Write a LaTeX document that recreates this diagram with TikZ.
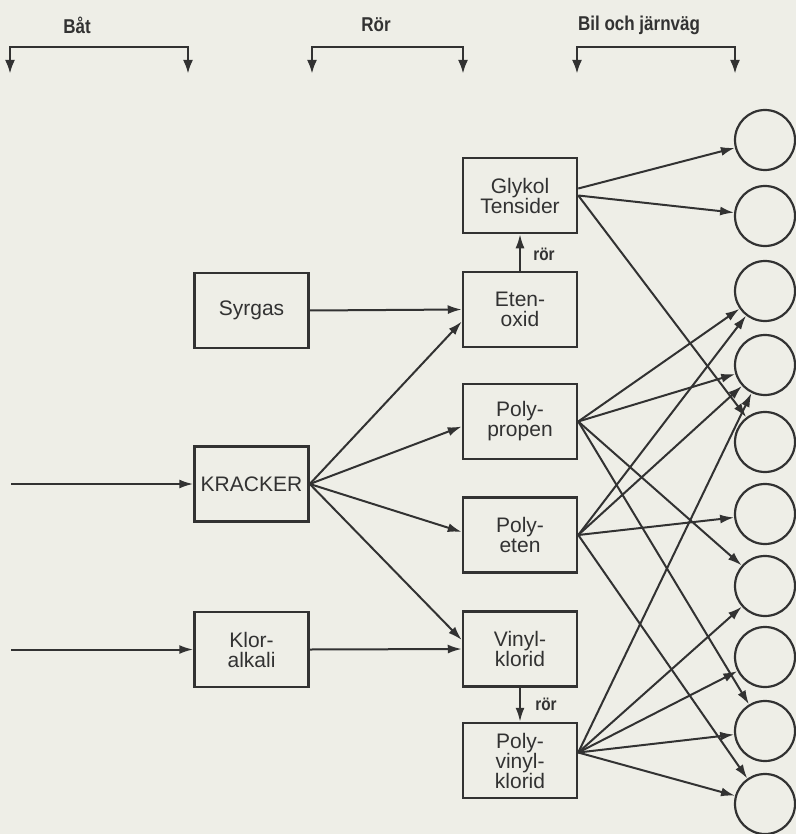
\documentclass[tikz,border=0pt]{standalone}
\usepackage{fontspec}
\usepackage{graphicx}
\setmainfont{Liberation Sans}
\usetikzlibrary{arrows.meta,calc}
\definecolor{ink}{RGB}{50,50,50}
\definecolor{paper}{RGB}{238,238,231}
\newcommand\mycond[1]{\scalebox{0.85}[1]{#1}}
\tikzset{
  box/.style={draw=ink, line width=1.25pt, minimum width=57pt, minimum height=37.5pt,
    inner sep=0pt, align=center, text=ink, font=\fontsize{10.5}{10}\selectfont},
  ring/.style={draw=ink, line width=1.1pt, circle, inner sep=0pt, minimum size=30pt},
  flow/.style={draw=ink, line width=1pt, -{Latex[length=7pt,width=4.5pt]}},
  bracket/.style={draw=ink, line width=1.4pt, {Latex[length=7pt,width=5pt]}-{Latex[length=7pt,width=5pt]}},
  head/.style={text=ink, inner sep=0pt, font=\bfseries\fontsize{10}{12}\selectfont},
  tag/.style={text=ink, inner sep=0pt, font=\bfseries\fontsize{9}{11}\selectfont}
}
\begin{document}
\begin{tikzpicture}[x=0.5pt, y=-0.5pt]
\fill[paper] (0,0) rectangle (796,834);
\useasboundingbox (0,0) rectangle (796,834);

% top labels and brackets
\node[head] (lblBat) at (77,25) {\mycond{Båt}};
\node[head] (lblRor) at (376,25) {\mycond{Rör}};
\node[head] (lblBil) at (639,25) {\mycond{Bil och järnväg}};
\coordinate (bA1) at (10,74);  \coordinate (bA2) at (188,74);
\coordinate (bB1) at (312,74); \coordinate (bB2) at (463,74);
\coordinate (bC1) at (577,74); \coordinate (bC2) at (735,74);
\draw[bracket] (bA1) -- ++(0,-27) -| (bA2);
\draw[bracket] (bB1) -- ++(0,-27) -| (bB2);
\draw[bracket] (bC1) -- ++(0,-27) -| (bC2);

% boxes
\node[box] (Syrgas) at (251.5,310.5) {Syrgas};
\node[box] (Kracker) at (251.5,484) {KRACKER};
\node[box] (Klor) at (251.5,649.5) {Klor-\\alkali};
\node[box] (Glykol) at (520,195.5) {Glykol\\Tensider};
\node[box] (Eten) at (520,309.5) {Eten-\\oxid};
\node[box] (PP) at (520,421.5) {Poly-\\propen};
\node[box] (PE) at (520,535) {Poly-\\eten};
\node[box] (VC) at (520,649) {Vinyl-\\klorid};
\node[box] (PVC) at (520,760.5) {Poly-\\vinyl-\\klorid};

% circles
\foreach \i/\y in {1/140,2/216,3/291,4/365,5/442,6/514,7/586,8/657,9/731,10/804}
  \node[ring] (c\i) at (765,\y) {};

% inputs
\coordinate (inK) at (11,484);
\coordinate (inC) at (11,649.5);
\draw[flow] (inK) -- (Kracker.west);
\draw[flow] (inC) -- (Klor.west);

% left side flows
\draw[flow] (Syrgas.east) -- (Eten.west);
\draw[flow] (Kracker.east) -- ($(Eten.west)+(0,12)$);
\draw[flow] (Kracker.east) -- ($(PP.west)+(0,5)$);
\draw[flow] (Kracker.east) -- ($(PE.west)+(0,-3)$);
\draw[flow] (Kracker.east) -- ($(VC.west)+(0,-9)$);
\draw[flow] (Klor.east) -- (VC.west);

% pipes
\draw[flow] (Eten.north) -- (Glykol.south);
\node[tag] (rorA) at (544,254) {\mycond{rör}};
\draw[flow] (VC.south) -- (PVC.north);
\node[tag] (rorB) at (546,704) {\mycond{rör}};

% product flows
\coordinate (gA) at ($(Glykol.east)+(0,-7)$);
\coordinate (pvcR) at ($(PVC.east)+(0,-8)$);
\draw[flow] (gA) -- (c1);
\draw[flow] (Glykol.east) -- (c2);
\draw[flow] (Glykol.east) -- (c5);
\foreach \c in {3,4,7,9} \draw[flow] (PP.east) -- (c\c);
\foreach \c in {3,4,6,10} \draw[flow] (PE.east) -- (c\c);
\foreach \c in {4,7,8,9,10} \draw[flow] (pvcR) -- (c\c);
\end{tikzpicture}
\end{document}
